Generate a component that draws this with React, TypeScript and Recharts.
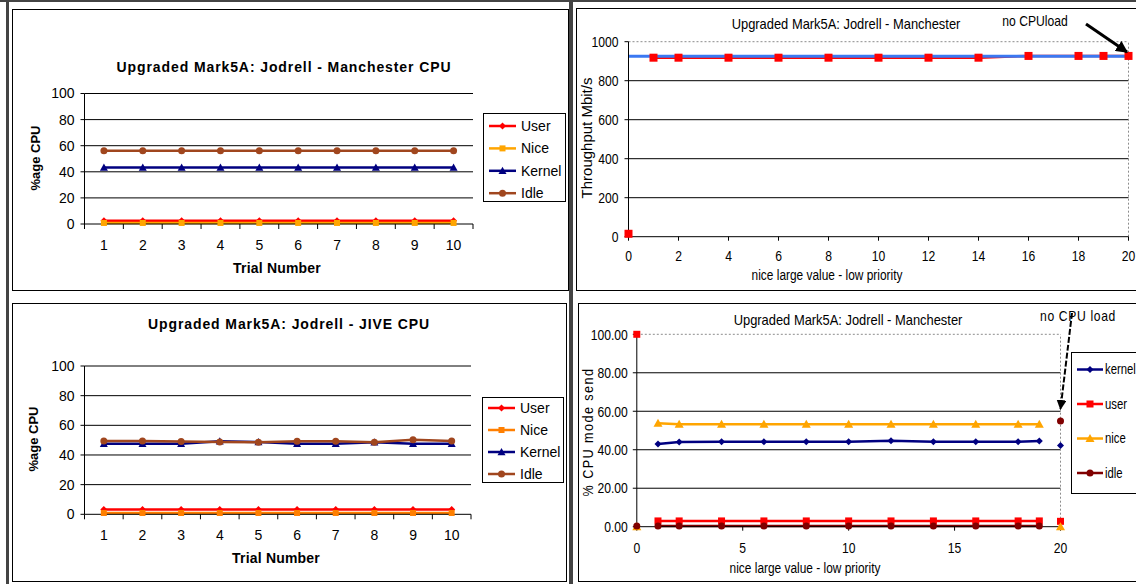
import React from "react";
import { LineChart, Line, XAxis, YAxis, ReferenceLine } from "recharts";

const ARIAL = "'Liberation Sans', Arial, sans-serif";
const NARROW = "'Liberation Sans Narrow', 'Arial Narrow', 'Liberation Sans', Arial, sans-serif";
const SQUEEZE = 0.81;

// left charts: CPU per trial
const trials = [1, 2, 3, 4, 5, 6, 7, 8, 9, 10];
const trialTicks = [0.5, 1, 1.5, 2, 2.5, 3, 3.5, 4, 4.5, 5, 5.5, 6, 6.5, 7, 7.5, 8, 8.5, 9, 9.5, 10, 10.5];
const cpuTicks = [0, 20, 40, 60, 80, 100];

// Jodrell - Manchester CPU
const manUser = [2.5, 2.5, 2.5, 2.5, 2.5, 2.5, 2.5, 2.5, 2.5, 2.5];
const manNice = [0.8, 0.8, 0.8, 0.8, 0.8, 0.8, 0.8, 0.8, 0.8, 0.8];
const manKernel = [43.3, 43.3, 43.3, 43.3, 43.3, 43.3, 43.3, 43.3, 43.3, 43.3];
const manIdle = [56.2, 56.2, 56.2, 56.2, 56.2, 56.2, 56.2, 56.2, 56.2, 56.2];

// Jodrell - JIVE CPU
const jiveUser = [3.3, 3.3, 3.3, 3.3, 3.3, 3.3, 3.3, 3.3, 3.3, 3.3];
const jiveNice = [0.9, 0.9, 0.9, 0.9, 0.9, 0.9, 0.9, 0.9, 0.9, 0.9];
const jiveKernel = [47.5, 47.5, 47.5, 49.2, 48.7, 47.5, 47.5, 48.6, 47.6, 47.5];
const jiveIdle = [49.5, 49.4, 49.1, 48.7, 48.6, 49.3, 49.2, 48.6, 50.3, 49.4];

// top right: throughput vs nice value
const niceValues = [0, 1, 2, 4, 6, 8, 10, 12, 14, 16, 18, 19, 20];
const throughput = [15, 918, 918, 918, 918, 918, 918, 918, 918, 927, 927, 927, 927];
const noLoadThroughput = [926, null, null, null, null, null, null, null, null, null, null, null, 926];
const tpXTicks = [0, 2, 4, 6, 8, 10, 12, 14, 16, 18, 20];
const tpYTicks = [0, 200, 400, 600, 800, 1000];

// bottom right: CPU mode split vs nice value
const kernelPct = [null, 43.0, 44.0, 44.2, 44.2, 44.2, 44.2, 44.7, 44.2, 44.2, 44.2, 44.6, 42.2];
const userPct = [100, 3.0, 3.0, 3.0, 3.0, 3.0, 3.0, 3.0, 3.0, 3.0, 3.0, 3.0, 2.8];
const nicePct = [0, 53.8, 53.3, 53.3, 53.3, 53.3, 53.3, 53.3, 53.3, 53.3, 53.3, 53.3, 0];
const idlePct = [0.4, 0.4, 0.4, 0.4, 0.4, 0.4, 0.4, 0.4, 0.4, 0.4, 0.4, 0.4, 55.0];
const modeXTicks = [0, 5, 10, 15, 20];
const modeYTicks = [0, 20, 40, 60, 80, 100];

type Shape = "diamond" | "square" | "triangle" | "circle";

function drawMarker(shape: Shape, cx: number, cy: number, r: number, color: string, key?: string) {
  if (shape === "diamond")
    return <polygon key={key} points={`${cx},${cy - r} ${cx + r},${cy} ${cx},${cy + r} ${cx - r},${cy}`} fill={color} />;
  if (shape === "square")
    return <rect key={key} x={cx - r} y={cy - r} width={2 * r} height={2 * r} fill={color} />;
  if (shape === "triangle")
    return <polygon key={key} points={`${cx},${cy - r} ${cx + r},${cy + r * 0.8} ${cx - r},${cy + r * 0.8}`} fill={color} />;
  return <circle key={key} cx={cx} cy={cy} r={r} fill={color} />;
}

const dotOf = (shape: Shape, color: string, r: number) => (p: any) => {
  const { cx, cy, index, value } = p;
  if (cx == null || cy == null || Number.isNaN(cy) || value == null) return <g key={`e${index}`} />;
  return drawMarker(shape, cx, cy, r, color, `d${index}`);
};

type Series = { key: string; name: string; color: string; shape: Shape; r: number };

const manSeries: Series[] = [
  { key: "user", name: "User", color: "#ff0000", shape: "diamond", r: 3.5 },
  { key: "nice", name: "Nice", color: "#ffa500", shape: "square", r: 3 },
  { key: "kernel", name: "Kernel", color: "#000080", shape: "triangle", r: 4 },
  { key: "idle", name: "Idle", color: "#a0461e", shape: "circle", r: 3.5 },
];
const jiveSeries: Series[] = [
  { key: "user", name: "User", color: "#ff0000", shape: "diamond", r: 3.5 },
  { key: "nice", name: "Nice", color: "#ff7f00", shape: "square", r: 3 },
  { key: "kernel", name: "Kernel", color: "#000080", shape: "triangle", r: 4 },
  { key: "idle", name: "Idle", color: "#a0461e", shape: "circle", r: 3.5 },
];
const modeSeries: Series[] = [
  { key: "kernel", name: "kernel", color: "#000080", shape: "diamond", r: 3.5 },
  { key: "user", name: "user", color: "#ff0000", shape: "square", r: 3.5 },
  { key: "nice", name: "nice", color: "#ffa500", shape: "triangle", r: 4.5 },
  { key: "idle", name: "idle", color: "#800000", shape: "circle", r: 3.5 },
];

const manRows = trials.map((t, i) => ({ trial: t, user: manUser[i], nice: manNice[i], kernel: manKernel[i], idle: manIdle[i] }));
const jiveRows = trials.map((t, i) => ({ trial: t, user: jiveUser[i], nice: jiveNice[i], kernel: jiveKernel[i], idle: jiveIdle[i] }));

const last = niceValues.length - 1;
const inner = (i: number, v: number | null) => (i === 0 || i === last ? null : v);
const outer = (i: number, v: number | null) => (i === 0 || i === last ? v : null);

const tpRows = niceValues.map((x, i) => ({
  x,
  tpLine: i === 0 ? null : throughput[i],
  tpAll: throughput[i],
  noLoad: noLoadThroughput[i],
}));

const modeRows = niceValues.map((x, i) => ({
  x,
  kernel: inner(i, kernelPct[i]),
  kernelEnd: outer(i, kernelPct[i]),
  user: inner(i, userPct[i]),
  userEnd: outer(i, userPct[i]),
  nice: inner(i, nicePct[i]),
  niceEnd: outer(i, nicePct[i]),
  idle: inner(i, idlePct[i]),
  idleEnd: outer(i, idlePct[i]),
}));

function TrialTick(props: any) {
  const { x, y, payload } = props;
  const v = payload.value;
  if (Number.isInteger(v)) {
    return (
      <text x={x} y={y + 21} dy="0.35em" textAnchor="middle" fontSize={14} fontFamily={ARIAL} fill="#000">
        {v}
      </text>
    );
  }
  return <line x1={x} x2={x} y1={y} y2={y + 5} stroke="#000" />;
}

// condensed tick label for the right-hand charts
function NarrowTick(props: any) {
  const { x, y, payload, textAnchor, vertical, fmt } = props;
  const label = fmt ? fmt(payload.value) : payload.value;
  return (
    <text
      transform={`translate(${x},${y}) scale(${SQUEEZE},1)`}
      textAnchor={textAnchor}
      dy={vertical ? "0.35em" : "0.71em"}
      fontSize={15}
      fontFamily={NARROW}
      fill="#000"
    >
      {label}
    </text>
  );
}

function Txt({ x, y, size, bold, font, rotate, spacing, sx, children }: any) {
  return (
    <div
      style={{
        position: "absolute",
        left: x,
        top: y,
        transform: `translate(-50%, -50%)${rotate ? " rotate(-90deg)" : ""}${sx ? ` scaleX(${sx})` : ""}`,
        whiteSpace: "nowrap",
        fontFamily: font,
        fontSize: size,
        fontWeight: bold ? 700 : 400,
        letterSpacing: spacing || 0,
        color: "#000",
        lineHeight: 1,
      }}
    >
      {children}
    </div>
  );
}

function BoxLegend({ left, top, width, height, series, firstRow, rowGap, lineX1, lineX2, textX, font, size, sx = 1 }: any) {
  return (
    <svg style={{ position: "absolute", left, top }} width={width} height={height}>
      <rect x={0.5} y={0.5} width={width - 1} height={height - 1} fill="#fff" stroke="#000" />
      {series.map((s: Series, i: number) => {
        const cy = firstRow + i * rowGap;
        return (
          <g key={s.key}>
            <line x1={lineX1} x2={lineX2} y1={cy} y2={cy} stroke={s.color} strokeWidth={2.5} />
            {drawMarker(s.shape, (lineX1 + lineX2) / 2, cy, s.r, s.color)}
            <text transform={`translate(${textX},${cy}) scale(${sx},1)`} dy="0.35em" fontSize={size} fontFamily={font} fill="#000">
              {s.name}
            </text>
          </g>
        );
      })}
    </svg>
  );
}

function TrialChart({ left, top, height, margin, rows, series }: any) {
  return (
    <div style={{ position: "absolute", left, top }}>
      <LineChart width={470} height={height} data={rows} margin={margin}>
        {cpuTicks.slice(1).map((v) => (
          <ReferenceLine key={v} y={v} stroke="#000" />
        ))}
        <XAxis
          dataKey="trial"
          type="number"
          domain={[0.5, 10.5]}
          ticks={trialTicks}
          interval={0}
          tick={<TrialTick />}
          tickLine={false}
          tickSize={0}
          tickMargin={0}
          axisLine={{ stroke: "#000" }}
          height={30}
        />
        <YAxis
          type="number"
          domain={[0, 100]}
          ticks={cpuTicks}
          interval={0}
          tickSize={4}
          tickMargin={6}
          tickLine={{ stroke: "#000" }}
          axisLine={{ stroke: "#000" }}
          width={74.5}
          tick={{ fontSize: 14, fontFamily: ARIAL, fill: "#000" }}
        />
        {series.map((s: Series) => (
          <Line
            key={s.key}
            dataKey={s.key}
            stroke={s.color}
            strokeWidth={2.5}
            dot={dotOf(s.shape, s.color, s.r)}
            activeDot={false}
            isAnimationActive={false}
          />
        ))}
      </LineChart>
    </div>
  );
}

const box = (left: number, top: number, width: number, height: number) => (
  <div style={{ position: "absolute", left, top, width, height, border: "1px solid #000", boxSizing: "border-box" }} />
);

export default function App() {
  return (
    <div style={{ position: "absolute", left: 0, top: 0, width: 1136, height: 584, overflow: "hidden", background: "#fff" }}>
      {/* frames */}
      <div style={{ position: "absolute", left: 0, top: 0, width: 1136, height: 2, background: "#444" }} />
      <div style={{ position: "absolute", left: 6, top: 0, width: 2.5, height: 584, background: "#444" }} />
      <div style={{ position: "absolute", left: 569, top: 0, width: 3.5, height: 584, background: "#444" }} />
      {box(12, 9, 557, 282)}
      {box(12, 303, 555, 279)}
      {box(575.5, 8, 570, 283)}
      {box(577.5, 302.7, 570, 279)}

      {/* top left */}
      <Txt x={284} y={67} size={14} bold font={ARIAL} spacing={0.9}>Upgraded Mark5A: Jodrell - Manchester CPU</Txt>
      <TrialChart left={10} top={80} height={190} margin={{ top: 13.5, right: 7, bottom: 16, left: 0 }} rows={manRows} series={manSeries} />
      <Txt x={277} y={268} size={14} bold font={ARIAL} spacing={0.2}>Trial Number</Txt>
      <Txt x={34.5} y={158} size={13} bold font={ARIAL} rotate>%age CPU</Txt>
      <BoxLegend left={483} top={113} width={83} height={89} series={manSeries} firstRow={13} rowGap={22.4} lineX1={6} lineX2={33} textX={38} font={ARIAL} size={14} />

      {/* bottom left */}
      <Txt x={289} y={324} size={14} bold font={ARIAL} spacing={0.9}>Upgraded Mark5A: Jodrell - JIVE CPU</Txt>
      <TrialChart left={10} top={350} height={200} margin={{ top: 16, right: 9, bottom: 5.7, left: 0 }} rows={jiveRows} series={jiveSeries} />
      <Txt x={276} y={558} size={14} bold font={ARIAL} spacing={0.2}>Trial Number</Txt>
      <Txt x={33} y={439} size={13} bold font={ARIAL} rotate>%age CPU</Txt>
      <BoxLegend left={482} top={397} width={82} height={86} series={jiveSeries} firstRow={11} rowGap={22} lineX1={6} lineX2={33} textX={38} font={ARIAL} size={14} />

      {/* top right */}
      <Txt x={845.6} y={23} size={15} font={NARROW} sx={0.86}>Upgraded Mark5A: Jodrell - Manchester</Txt>
      <Txt x={1035} y={20} size={15} font={NARROW} sx={SQUEEZE}>no CPUload</Txt>
      <div style={{ position: "absolute", left: 578, top: 20 }}>
        <LineChart width={558} height={260} data={tpRows} margin={{ top: 21.7, right: 7.5, bottom: 13.3, left: 0 }}>
          {tpYTicks.slice(1, -1).map((v) => (
            <ReferenceLine key={v} y={v} stroke="#000" />
          ))}
          <ReferenceLine y={1000} stroke="#8c8c8c" strokeDasharray="2 2" />
          <ReferenceLine x={20} stroke="#8c8c8c" strokeDasharray="2 2" />
          <XAxis
            dataKey="x"
            type="number"
            domain={[0, 20]}
            ticks={tpXTicks}
            interval={0}
            tickSize={4}
            tickMargin={10}
            tickLine={{ stroke: "#000" }}
            axisLine={{ stroke: "#000" }}
            height={30}
            tick={<NarrowTick />}
          />
          <YAxis
            type="number"
            domain={[0, 1000]}
            ticks={tpYTicks}
            interval={0}
            tickSize={4}
            tickMargin={6}
            tickLine={{ stroke: "#000" }}
            axisLine={{ stroke: "#000" }}
            width={50.5}
            tick={<NarrowTick vertical />}
          />
          <Line dataKey="tpLine" stroke="#ff0000" strokeWidth={2.5} dot={false} activeDot={false} isAnimationActive={false} />
          <Line dataKey="noLoad" stroke="#3a78f2" strokeWidth={3} dot={false} activeDot={false} connectNulls isAnimationActive={false} />
          <Line dataKey="tpAll" stroke="none" dot={dotOf("square", "#ff0000", 4)} activeDot={false} isAnimationActive={false} />
        </LineChart>
      </div>
      <Txt x={826.5} y={275} size={14} font={NARROW} sx={0.85}>nice large value - low priority</Txt>
      <Txt x={586} y={137.5} size={15} font={NARROW}>
        <span style={{ display: "inline-block", transform: "rotate(-90deg)" }}>Throughput Mbit/s</span>
      </Txt>

      {/* bottom right */}
      <Txt x={847.6} y={319} size={15} font={NARROW} sx={0.86}>Upgraded Mark5A: Jodrell - Manchester</Txt>
      <Txt x={1078} y={315} size={15} font={NARROW} sx={SQUEEZE} spacing={0.8}>no CPU load</Txt>
      <div style={{ position: "absolute", left: 578, top: 310 }}>
        <LineChart width={558} height={260} data={modeRows} margin={{ top: 24.3, right: 75.5, bottom: 13.3, left: 0 }}>
          {modeYTicks.slice(1, -1).map((v) => (
            <ReferenceLine key={v} y={v} stroke="#000" />
          ))}
          <ReferenceLine y={100} stroke="#8c8c8c" strokeDasharray="2 2" />
          <ReferenceLine x={20} stroke="#8c8c8c" strokeDasharray="2 2" />
          <XAxis
            dataKey="x"
            type="number"
            domain={[0, 20]}
            ticks={modeXTicks}
            interval={0}
            tickSize={4}
            tickMargin={12}
            tickLine={{ stroke: "#000" }}
            axisLine={{ stroke: "#000" }}
            height={30}
            tick={<NarrowTick />}
          />
          <YAxis
            type="number"
            domain={[0, 100]}
            ticks={modeYTicks}
            interval={0}
            tickSize={4}
            tickMargin={5}
            tickLine={{ stroke: "#000" }}
            axisLine={{ stroke: "#000" }}
            width={58.8}
            tick={<NarrowTick vertical fmt={(v: number) => v.toFixed(2)} />}
          />
          {modeSeries.map((s) => (
            <Line
              key={s.key}
              dataKey={s.key}
              stroke={s.color}
              strokeWidth={2.5}
              dot={dotOf(s.shape, s.color, s.r)}
              activeDot={false}
              isAnimationActive={false}
            />
          ))}
          {modeSeries.map((s) => (
            <Line
              key={s.key + "End"}
              dataKey={s.key + "End"}
              stroke="none"
              dot={dotOf(s.shape, s.color, s.r)}
              activeDot={false}
              isAnimationActive={false}
            />
          ))}
        </LineChart>
      </div>
      <Txt x={804.6} y={568} size={14} font={NARROW} sx={0.85}>nice large value - low priority</Txt>
      <Txt x={588} y={431.7} size={14} font={NARROW} rotate sx={0.9} spacing={1.6}>% CPU mode send</Txt>
      <BoxLegend left={1071} top={351.7} width={80} height={142} series={modeSeries} firstRow={17.5} rowGap={34.5} lineX1={6} lineX2={32} textX={34} font={NARROW} size={14} sx={SQUEEZE} />

      {/* arrows */}
      <svg style={{ position: "absolute", left: 0, top: 0, pointerEvents: "none" }} width={1136} height={584}>
        <defs>
          <marker id="head" viewBox="0 0 10 10" refX="9" refY="5" markerWidth="4" markerHeight="4" orient="auto">
            <path d="M0,0 L10,5 L0,10 z" fill="#000" />
          </marker>
          <marker id="head2" viewBox="0 0 10 10" refX="9" refY="5" markerWidth="5" markerHeight="5" orient="auto">
            <path d="M0,0 L10,5 L0,10 z" fill="#000" />
          </marker>
        </defs>
        <line x1={1086} y1={24} x2={1127} y2={52} stroke="#000" strokeWidth={3} markerEnd="url(#head)" />
        <line x1={1072} y1={313} x2={1060.5} y2={409} stroke="#000" strokeWidth={2} strokeDasharray="6 2" markerEnd="url(#head2)" />
      </svg>
    </div>
  );
}
